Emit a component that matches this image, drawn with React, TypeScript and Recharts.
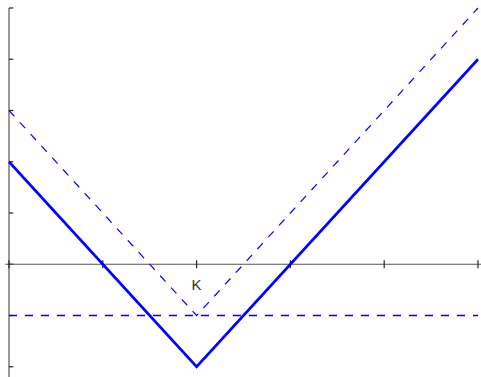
import React from "react";
import {
  LineChart,
  Line,
  XAxis,
  YAxis,
  ReferenceLine,
  ReferenceDot,
} from "recharts";

// Straddle-style payoff: strike K at spot = 2
const spots = [0, 1, 2, 3, 4, 5];
const netPayoff = [2, 0, -2, 0, 2, 4];
const grossPayoff = [3, 1, -1, 1, 3, 5];
const premiumLevel = [-1, -1, -1, -1, -1, -1];

const yTicks = [-2, -1, 0, 1, 2, 3, 4, 5];
const xTicks = [0, 1, 2, 3, 4, 5];
const strike = 2;
const strikeLabel = "K";

const BLUE = "#0000ff";
const AXIS = "#555555";
const X_TICK_HALF = 0.08; // half tick length in y units
const Y_TICK_LEN = 0.045; // tick length in x units

const data = spots.map((s, i) => ({
  spot: s,
  net: netPayoff[i],
  gross: grossPayoff[i],
  premium: premiumLevel[i],
}));

export default function App() {
  return (
    <div style={{ position: "absolute", left: 0, top: 0, width: 481, height: 377, background: "#fff" }}>
      <LineChart
        width={481}
        height={377}
        data={data}
        margin={{ top: 8, right: 3, bottom: 0, left: 9 }}
      >
        <XAxis dataKey="spot" type="number" domain={[0, 5]} hide />
        <YAxis type="number" domain={[-2.2, 5]} hide />

        {/* vertical axis */}
        <ReferenceLine
          segment={[{ x: 0, y: -2.2 }, { x: 0, y: 5 }]}
          stroke={AXIS}
          strokeWidth={1.2}
          ifOverflow="visible"
        />
        {yTicks.map((t) => (
          <ReferenceLine
            key={"y" + t}
            segment={[{ x: 0, y: t }, { x: Y_TICK_LEN, y: t }]}
            stroke="#222"
            strokeWidth={1.2}
            ifOverflow="visible"
          />
        ))}

        {/* horizontal axis through zero */}
        <ReferenceLine
          segment={[{ x: -0.04, y: 0 }, { x: 5.05, y: 0 }]}
          stroke={AXIS}
          strokeWidth={1.2}
          ifOverflow="visible"
        />
        {xTicks.map((t) => (
          <ReferenceLine
            key={"x" + t}
            segment={[{ x: t, y: -X_TICK_HALF }, { x: t, y: X_TICK_HALF }]}
            stroke="#222"
            strokeWidth={1.2}
            ifOverflow="visible"
          />
        ))}
        <ReferenceDot
          x={strike}
          y={0}
          r={0}
          fill="none"
          stroke="none"
          label={{
            value: strikeLabel,
            position: "bottom",
            offset: 15,
            fill: "#333",
            fontSize: 15,
            fontFamily: "Liberation Sans, Arial, sans-serif",
          }}
        />

        <Line
          type="linear"
          dataKey="premium"
          stroke={BLUE}
          strokeWidth={1.5}
          strokeDasharray="8 8"
          dot={false}
          isAnimationActive={false}
        />
        <Line
          type="linear"
          dataKey="gross"
          stroke={BLUE}
          strokeWidth={1.2}
          strokeDasharray="8 8"
          dot={false}
          isAnimationActive={false}
        />
        <Line
          type="linear"
          dataKey="net"
          stroke={BLUE}
          strokeWidth={2.6}
          dot={false}
          isAnimationActive={false}
        />
      </LineChart>
    </div>
  );
}
